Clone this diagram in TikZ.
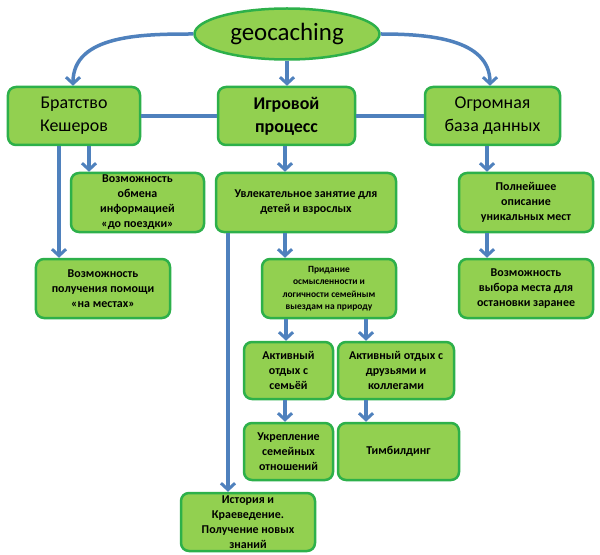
\documentclass[tikz,border=0pt]{standalone}
\usepackage{fontspec}
\setmainfont{Carlito}
\usetikzlibrary{arrows.meta,shapes.geometric}
\definecolor{boxfill}{HTML}{92D050}
\definecolor{boxline}{HTML}{2DB04A}
\definecolor{arrcol}{HTML}{4F81BD}
\tikzset{
  box/.style={draw=boxline, fill=boxfill, line width=2.5bp, rounded corners=8bp,
    align=center, inner sep=2bp, text=black},
  topbox/.style={box, minimum width=132bp, minimum height=58bp,
    font=\fontsize{18}{23}\selectfont},
  smallbox/.style={box, minimum height=59bp,
    font=\bfseries\fontsize{12}{15}\selectfont},
  arr/.style={draw=arrcol, line width=3.5bp,
    -{Straight Barb[length=6.5bp,width=14bp,line width=3bp]}},
  conn/.style={draw=arrcol, line width=3.5bp}
}
\begin{document}
\begin{tikzpicture}[x=1bp,y=-1bp]
\useasboundingbox (0,0) rectangle (600,555);
\fill[white] (0,0) rectangle (600,555);

% top ellipse
\node[ellipse, draw=boxline, fill=boxfill, line width=2.5bp,
  minimum width=185bp, minimum height=51bp, inner sep=0pt,
  font=\fontsize{25}{28}\selectfont] (geo) at (287,34) {geocaching};

% top level
\node[topbox] (bk) at (74,116) {Братство\\Кешеров};
\node[topbox, minimum width=137bp, font=\bfseries\fontsize{18}{23}\selectfont] (ig) at (286.5,116) {Игровой\\процесс};
\node[topbox, minimum width=135bp] (bd) at (492.5,116) {Огромная\\база данных};

% second level
\node[smallbox, minimum width=133bp] (obm) at (137.5,202.5) {Возможность\\обмена\\информацией\\«до поездки»};
\node[smallbox, minimum width=134bp] (pom) at (103,288.5) {Возможность\\получения помощи\\«на местах»};
\node[smallbox, minimum width=180bp] (uvl) at (306,202.5) {Увлекательное занятие для\\детей и взрослых};
\node[smallbox, minimum width=134bp, font=\bfseries\fontsize{9.5}{12.5}\selectfont] (prd) at (329,288.5) {Придание\\осмысленности и\\логичности семейным\\выездам на природу};
\node[smallbox, minimum width=134bp] (opi) at (526,202.5) {Полнейшее\\описание\\уникальных мест};
\node[smallbox, minimum width=134bp] (vyb) at (526,288.5) {Возможность\\выбора места для\\остановки заранее};

% third level
\node[smallbox, minimum width=89bp, minimum height=57bp] (sem) at (288.5,370.5) {Активный\\отдых с\\семьёй};
\node[smallbox, minimum width=116bp, minimum height=57bp] (dru) at (396,370.5) {Активный отдых с\\друзьями и\\коллегами};
\node[smallbox, minimum width=89bp, minimum height=57bp] (ukr) at (288.5,451.5) {Укрепление\\семейных\\отношений};
\node[smallbox, minimum width=121bp, minimum height=57bp] (tim) at (398.5,451.5) {Тимбилдинг};
\node[smallbox, minimum width=134bp, minimum height=58bp] (ist) at (248,522) {История и\\Краеведение.\\Получение новых\\знаний};

% connectors from ellipse
\draw[arr] (geo.west) to[out=180,in=90] (bk.north -| 73,0);
\draw[arr] (geo.south) -- (ig.north -| geo.south);
\draw[arr] (geo.east) to[out=0,in=90] (bd.north -| 490,0);

% horizontal links
\draw[conn] (bk.east) -- (ig.west);
\draw[conn] (ig.east) -- (bd.west);

% left column
\draw[arr] (bk.south -| 59,0) -- (pom.north -| 59,0);
\draw[arr] (bk.south -| 89,0) -- (obm.north -| 89,0);

% middle column
\draw[arr] (ig.south -| 285,0) -- (uvl.north -| 285,0);
\draw[arr] (uvl.south -| 285,0) -- (prd.north -| 285,0);
\draw[arr] (uvl.south -| 228,0) -- (ist.north -| 228,0);
\draw[arr] (prd.south -| 286,0) -- (sem.north -| 286,0);
\draw[arr] (prd.south -| 366,0) -- (dru.north -| 366,0);
\draw[arr] (sem.south -| 285,0) -- (ukr.north -| 285,0);
\draw[arr] (dru.south -| 366,0) -- (tim.north -| 366,0);

% right column
\draw[arr] (bd.south -| 487,0) -- (opi.north -| 487,0);
\draw[arr] (opi.south -| 487,0) -- (vyb.north -| 487,0);
\end{tikzpicture}
\end{document}
